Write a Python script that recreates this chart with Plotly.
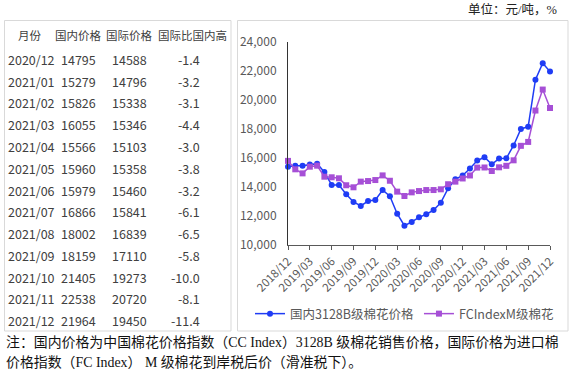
import plotly.graph_objects as go

W, H = 572, 372

months = ["2018/12", "2019/01", "2019/02", "2019/03", "2019/04", "2019/05", "2019/06",
          "2019/07", "2019/08", "2019/09", "2019/10", "2019/11", "2019/12",
          "2020/01", "2020/02", "2020/03", "2020/04", "2020/05", "2020/06",
          "2020/07", "2020/08", "2020/09", "2020/10", "2020/11", "2020/12",
          "2021/01", "2021/02", "2021/03", "2021/04", "2021/05", "2021/06",
          "2021/07", "2021/08", "2021/09", "2021/10", "2021/11", "2021/12"]

domestic = [15400, 15470, 15470, 15560, 15610, 15030, 14140, 14140, 13500, 12970,
            12690, 13030, 13100, 13790, 13360, 12160, 11330, 11590, 11910, 12120,
            12410, 12920, 13910, 14530, 14795, 15279, 15826, 16055, 15566, 15960,
            15979, 16866, 18002, 18159, 21405, 22538, 21964]

international = [15800, 15220, 14940, 15400, 15470, 14710, 14670, 14600, 14120, 13980,
                 14370, 14410, 14480, 14800, 14430, 13680, 13380, 13630, 13720, 13790,
                 13790, 13840, 14190, 14370, 14588, 14796, 15338, 15346, 15103, 15358,
                 15460, 15841, 16839, 17110, 19273, 20720, 19450]

tick_months = ["2018/12", "2019/03", "2019/06", "2019/09", "2019/12", "2020/03", "2020/06",
               "2020/09", "2020/12", "2021/03", "2021/06", "2021/09", "2021/12"]

table_header = ["月份", "国内价格", "国际价格", "国际比国内高"]
table_months = ["2020/12", "2021/01", "2021/02", "2021/03", "2021/04", "2021/05", "2021/06",
                "2021/07", "2021/08", "2021/09", "2021/10", "2021/11", "2021/12"]
table_domestic = ["14795", "15279", "15826", "16055", "15566", "15960", "15979",
                  "16866", "18002", "18159", "21405", "22538", "21964"]
table_international = ["14588", "14796", "15338", "15346", "15103", "15358", "15460",
                       "15841", "16839", "17110", "19273", "20720", "19450"]
table_diff = ["-1.4", "-3.2", "-3.1", "-4.4", "-3.0", "-3.8", "-3.2",
              "-6.1", "-6.5", "-5.8", "-10.0", "-8.1", "-11.4"]

series_names = ["国内3128B级棉花价格", "FCIndexM级棉花"]
unit_text = "单位：元/吨，%"
note_lines = ["注：国内价格为中国棉花价格指数（CC Index）3128B 级棉花销售价格，国际价格为进口棉",
              "价格指数（FC Index） M 级棉花到岸税后价（滑准税下）。"]

BLUE = "#1f3cf5"
PURPLE = "#a64fd6"
SANS = "Noto Sans CJK SC, Open Sans, sans-serif"
SERIF = "Liberation Serif, Noto Sans CJK SC, serif"


def px(x):
    return x / W


def py(y):
    return 1 - y / H


fig = go.Figure()
fig.add_trace(go.Scatter(x=months, y=domestic, name=series_names[0], mode="lines+markers",
                         line=dict(color=BLUE, width=1.5),
                         marker=dict(symbol="circle", size=6, color=BLUE),
                         cliponaxis=False))
fig.add_trace(go.Scatter(x=months, y=international, name=series_names[1], mode="lines+markers",
                         line=dict(color=PURPLE, width=1.5),
                         marker=dict(symbol="square", size=6, color=PURPLE),
                         cliponaxis=False))

fig.update_layout(
    width=W, height=H,
    margin=dict(l=0, r=0, t=0, b=0, autoexpand=False),
    paper_bgcolor="white", plot_bgcolor="white",
    font=dict(family=SANS, color="#595959"),
    showlegend=True,
    legend=dict(orientation="h", x=px(250), y=py(314), xanchor="left", yanchor="middle",
                font=dict(size=12.5, color="#595959", family=SANS),
                bgcolor="rgba(0,0,0,0)", itemwidth=30, tracegroupgap=0),
    xaxis=dict(type="category", categoryorder="array", categoryarray=months,
               range=[0, len(months) - 1],
               domain=[px(288), px(550)],
               tickmode="array", tickvals=tick_months, ticktext=tick_months,
               tickangle=-45, tickfont=dict(size=11.5, color="#595959"),
               showgrid=False, zeroline=False,
               showline=True, linecolor="#595959", linewidth=1,
               ticks="outside", ticklen=4, tickcolor="#595959"),
    yaxis=dict(range=[10000, 24000], dtick=2000, tickformat=",d",
               domain=[py(245), py(42)],
               tickfont=dict(size=12, color="#595959"),
               showgrid=False, zeroline=False,
               showline=True, linecolor="#333333", linewidth=1,
               ticks="", ticklabelstandoff=8),
)

shapes = [
    dict(type="rect", xref="paper", yref="paper", x0=px(4.5), x1=px(231), y0=py(331), y1=py(20.5),
         line=dict(color="#d9d9d9", width=1)),
    dict(type="rect", xref="paper", yref="paper", x0=px(237.5), x1=px(568), y0=py(331), y1=py(20.5),
         line=dict(color="#d9d9d9", width=1)),
]
fig.update_layout(shapes=shapes)

ann = []
hdr_x = [30, 79, 129, 192]
for t, x in zip(table_header, hdr_x):
    ann.append(dict(text=t, x=px(x), y=py(35), xref="paper", yref="paper", showarrow=False,
                    xanchor="center", yanchor="middle",
                    font=dict(size=11.5, color="#404040", family=SANS)))
row_y0, row_dy = 59.5, 21.75
cell_font = dict(size=12.5, color="#404040", family=SANS)
for i in range(len(table_months)):
    y = py(row_y0 + i * row_dy)
    ann.append(dict(text=table_months[i], x=px(6), y=y, xref="paper", yref="paper", showarrow=False,
                    xanchor="left", yanchor="middle", font=cell_font))
    ann.append(dict(text=table_domestic[i], x=px(79), y=y, xref="paper", yref="paper", showarrow=False,
                    xanchor="center", yanchor="middle", font=cell_font))
    ann.append(dict(text=table_international[i], x=px(129), y=y, xref="paper", yref="paper", showarrow=False,
                    xanchor="center", yanchor="middle", font=cell_font))
    ann.append(dict(text=table_diff[i], x=px(202), y=y, xref="paper", yref="paper", showarrow=False,
                    xanchor="right", yanchor="middle", font=cell_font))

ann.append(dict(text=unit_text, x=px(559), y=py(10), xref="paper", yref="paper", showarrow=False,
                xanchor="right", yanchor="middle", font=dict(size=12.5, color="#222222", family=SERIF)))
ann.append(dict(text=note_lines[0], x=px(4), y=py(342), xref="paper", yref="paper", showarrow=False,
                xanchor="left", yanchor="middle", font=dict(size=13.9, color="#111111", family=SERIF)))
ann.append(dict(text=note_lines[1], x=px(4), y=py(362), xref="paper", yref="paper", showarrow=False,
                xanchor="left", yanchor="middle", font=dict(size=13.9, color="#111111", family=SERIF)))
fig.update_layout(annotations=ann)

fig.write_html("out.html", config={"displayModeBar": False},
               post_script="document.body.style.margin='0';document.body.style.padding='0';")
